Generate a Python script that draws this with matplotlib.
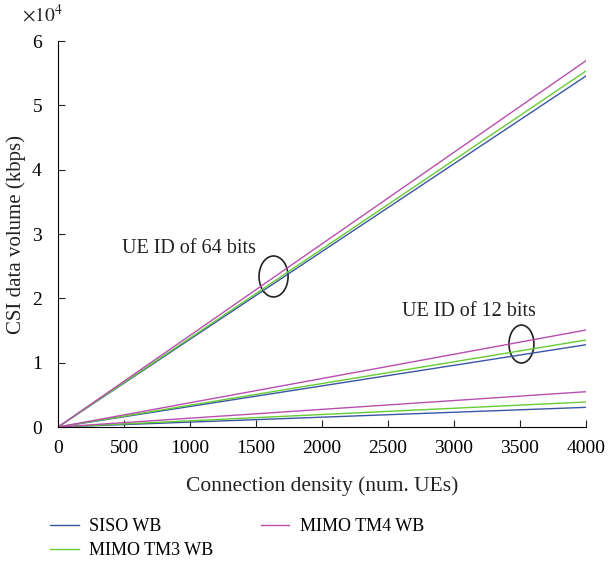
import matplotlib
matplotlib.use("Agg")
import matplotlib.pyplot as plt
from matplotlib.patches import Ellipse
from matplotlib.ticker import ScalarFormatter
import numpy as np

plt.rcParams['font.family'] = ['Liberation Serif', 'DejaVu Serif']
plt.rcParams['mathtext.fontset'] = 'stix'

density = [0, 4000]
series_names = ["SISO WB", "MIMO TM3 WB", "MIMO TM4 WB"]
colors = ["#3a55a4", "#66cc33", "#b84fae"]
# end values at 4000 UEs for UE ID of 64 bits, 12 bits, and the lowest group
end_64 = [54560, 55340, 56940]
end_12 = [12790, 13520, 15080]
end_low = [3060, 3890, 5490]

fig = plt.figure(figsize=(6.08, 5.65), dpi=100)
ax = fig.add_axes([0.0954, 0.2442, 0.8684, 0.6832])

for i, name in enumerate(series_names):
    ax.plot(density, [0, end_64[i]], color=colors[i], lw=1.0, label=name)
    ax.plot(density, [0, end_12[i]], color=colors[i], lw=1.0)
    ax.plot(density, [0, end_low[i]], color=colors[i], lw=1.0)

ax.set_xlim(0, 4000)
ax.set_ylim(0, 60000)
ax.set_xticks(np.arange(0, 4001, 500))
ax.set_yticks(np.arange(0, 60001, 10000))
fmt = ScalarFormatter(useMathText=True)
fmt.set_powerlimits((0, 0))
ax.yaxis.set_major_formatter(fmt)
ax.yaxis.get_offset_text().set_visible(False)
ax.spines['top'].set_visible(False)
ax.spines['right'].set_visible(False)
ax.tick_params(direction='in', labelsize=14, length=5, color='#222222')
ax.tick_params(axis='x', pad=9.5)
ax.tick_params(axis='y', pad=11)
ax.set_xlabel("Connection density (num. UEs)", fontsize=15.5, labelpad=14, color='#222222')
ax.set_ylabel("CSI data volume (kbps)", fontsize=15, labelpad=3.5, color='#222222')
fig.text(22 / 608, 1 - 22 / 565, r"$\times 10^{4}$", fontsize=14, ha='left', va='baseline', color='#222222')

ax.add_patch(Ellipse((1633, 23400), 220, 6370, fill=False, ec='#222222', lw=1.2))
ax.add_patch(Ellipse((3511, 12900), 189, 5900, fill=False, ec='#222222', lw=1.2))
ax.text(485, 27800, "UE ID of 64 bits", fontsize=14.5, va='center', ha='left', color='#222222')
ax.text(2606, 18000, "UE ID of 12 bits", fontsize=14.5, va='center', ha='left', color='#222222')

fig.legend(loc='upper left', bbox_to_anchor=(0.055, 0.1115), ncol=2, frameon=False,
           fontsize=13, handlelength=1.6, columnspacing=2.6, handletextpad=0.6,
           labelspacing=0.4)

fig.savefig("out.png", dpi=100)
